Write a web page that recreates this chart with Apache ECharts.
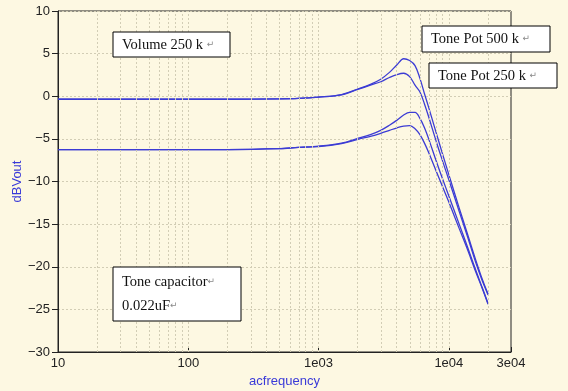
<!DOCTYPE html>
<html>
<head>
<meta charset="utf-8">
<script src="https://cdn.jsdelivr.net/npm/echarts@6/dist/echarts.min.js"></script>
<style>
html,body{margin:0;padding:0;background:#fdf8e2;}
#c{width:568px;height:391px;}
</style>
</head>
<body>
<div id="c"></div>
<script>
// Frequencies (Hz)
const freqs = [10, 20, 50, 100, 200, 500, 700, 1000, 1500, 2000, 2500, 3000, 3500, 4000, 4500, 5000, 5500, 6000, 6500, 7000, 8000, 9000, 10000, 12000, 14000, 16000, 18000, 20000];
// dBVout, Volume 250k
const vol250_tone500 = [-0.35, -0.35, -0.35, -0.35, -0.35, -0.3, -0.25, -0.1, 0.2, 0.85, 1.4, 2.0, 2.8, 3.7, 4.4, 4.2, 3.6, 2.1, 0.3, -1.3, -4.3, -6.9, -9.2, -13.1, -16.3, -19.1, -21.4, -23.2];
const vol250_tone250 = [-0.35, -0.35, -0.35, -0.35, -0.35, -0.3, -0.25, -0.1, 0.17, 0.8, 1.3, 1.7, 2.2, 2.55, 2.7, 2.3, 1.3, 0.5, -0.9, -2.4, -5.3, -7.7, -9.8, -13.5, -16.6, -19.4, -21.6, -23.3];
// dBVout, lower volume setting
const volLow_tone500 = [-6.25, -6.25, -6.25, -6.25, -6.25, -6.15, -6.0, -5.85, -5.5, -4.95, -4.5, -4.0, -3.4, -2.8, -2.2, -1.9, -1.9, -2.6, -3.7, -5.0, -7.6, -9.8, -11.7, -15.0, -17.8, -20.3, -22.4, -24.3];
const volLow_tone250 = [-6.25, -6.25, -6.25, -6.25, -6.25, -6.15, -6.0, -5.9, -5.55, -5.05, -4.7, -4.35, -4.0, -3.7, -3.5, -3.45, -3.8, -4.5, -5.5, -6.6, -8.8, -10.7, -12.4, -15.5, -18.1, -20.5, -22.5, -24.4];
// Axis ticks
const xTickValues = [10, 100, 1000, 10000, 30000];
const xTickLabels = ['10', '100', '1e03', '1e04', '3e04'];
const gridFreqs = [20,30,40,50,60,70,80,90,100,200,300,400,500,600,700,800,900,1000,2000,3000,4000,5000,6000,7000,8000,9000,10000,20000];
const yMin = -30, yMax = 10, yStep = 5;

const L = Math.log10;
const curveColor = '#3c3cd4';
const gridColor = '#d2cdb5';
function mk(arr){ return freqs.map((f,i)=>[L(f), arr[i]]); }
function lineSeries(name, arr){
  return {name, type:'line', data: mk(arr), showSymbol:false, smooth:0.35, z:3,
    lineStyle:{color:curveColor, width:1.3}, itemStyle:{color:curveColor}};
}
const serif = '"Liberation Serif", "DejaVu Serif", serif';
function box(x, y, w, h, lines){
  const children = [{type:'rect', z:100, shape:{x:0,y:0,width:w,height:h}, style:{fill:'#ffffff', stroke:'#000', lineWidth:1}}];
  lines.forEach(l => children.push({type:'text', z:101, x:l[0], y:l[1], style:{
    text:'{a|'+l[2]+'}{r|↵}', rich:{a:{fontFamily:serif, fontSize:14.5, fill:'#111'}, r:{fontFamily:'DejaVu Sans', fontSize:9, fill:'#888'}},
    verticalAlign:'middle'}}));
  return {type:'group', x, y, children, z:100};
}

const chart = echarts.init(document.getElementById('c'));
chart.setOption({
  backgroundColor:'#fdf8e2',
  animation:false,
  grid:{left:58, right:57, top:11, bottom:39, show:true, borderColor:'#222', borderWidth:1, backgroundColor:'transparent',
    containLabel:false, outerBoundsMode:'none'},
  xAxis:{type:'value', min:L(xTickValues[0]), max:L(xTickValues[xTickValues.length-1]), interval:1,
    name:'acfrequency', nameLocation:'middle', nameGap:23, nameTextStyle:{color:'#3a3ad8', fontSize:13, fontFamily:'Liberation Sans'},
    axisLine:{onZero:false, lineStyle:{color:'#222'}}, axisTick:{inside:true, length:5, lineStyle:{color:'#222'}},
    splitLine:{show:false},
    axisLabel:{color:'#222', fontSize:13, fontFamily:'Liberation Sans', margin:5, showMaxLabel:true, showMinLabel:true,
      formatter:v=>{ let best=0; xTickValues.forEach((t,i)=>{ if(Math.abs(L(t)-v)<Math.abs(L(xTickValues[best])-v)) best=i; }); return xTickLabels[best]; }}},
  yAxis:{type:'value', min:yMin, max:yMax, interval:yStep,
    name:'dBVout', nameLocation:'middle', nameGap:34, nameMoveOverlap:false, nameTextStyle:{color:'#3a3ad8', fontSize:13, fontFamily:'Liberation Sans'},
    axisLine:{show:true, onZero:false, lineStyle:{color:'#222'}}, axisTick:{show:true, length:6, lineStyle:{color:'#222'}},
    splitLine:{show:true, lineStyle:{color:gridColor, type:[2,2]}},
    axisLabel:{color:'#222', fontSize:13, fontFamily:'Liberation Sans', margin:8, formatter:v=>String(v).replace('-','−')}},
  series:[
    {type:'line', data:[], z:1, silent:true,
      markLine:{silent:true, symbol:'none', label:{show:false}, animation:false,
        lineStyle:{color:gridColor, type:[2,2], width:1},
        data: gridFreqs.map(f=>({xAxis:L(f)}))}},
    lineSeries('Tone Pot 500 k', vol250_tone500),
    lineSeries('Tone Pot 250 k', vol250_tone250),
    lineSeries('Tone Pot 500 k low', volLow_tone500),
    lineSeries('Tone Pot 250 k low', volLow_tone250)
  ],
  graphic:[
    box(113, 32, 117, 25, [[9, 13, 'Volume 250 k ']]),
    box(422, 26, 128, 26, [[9, 13, 'Tone Pot 500 k ']]),
    box(429, 63, 128, 25, [[9, 13, 'Tone Pot 250 k ']]),
    box(113, 267, 128, 54, [[9, 15, 'Tone capacitor'], [9, 39, '0.022uF']])
  ]
});
</script>
</body>
</html>
